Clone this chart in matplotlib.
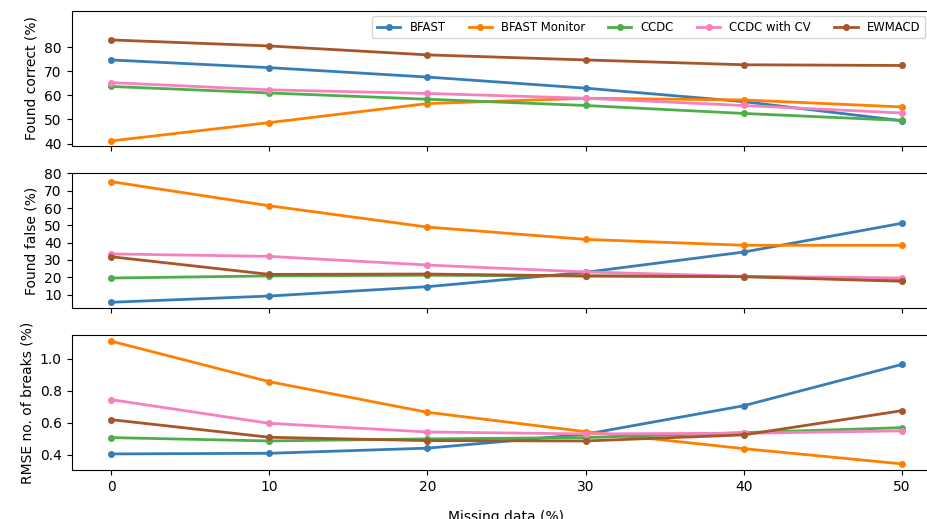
import numpy as np
import matplotlib
matplotlib.use('Agg')
import matplotlib.pyplot as plt

missing = [0, 10, 20, 30, 40, 50]
methods = ['BFAST', 'BFAST Monitor', 'CCDC', 'CCDC with CV', 'EWMACD']
colors = ['#377eb8', '#ff7f00', '#4daf4a', '#f781bf', '#a65628']

found_correct = {
    'BFAST': [74.7, 71.5, 67.6, 63.0, 57.4, 49.5],
    'BFAST Monitor': [41.1, 48.7, 56.6, 58.8, 58.1, 55.2],
    'CCDC': [63.7, 61.0, 58.4, 55.8, 52.5, 49.6],
    'CCDC with CV': [65.3, 62.3, 60.8, 58.8, 55.8, 52.7],
    'EWMACD': [83.0, 80.5, 76.8, 74.7, 72.7, 72.4],
}
found_false = {
    'BFAST': [5.6, 9.2, 14.6, 22.9, 34.6, 51.2],
    'BFAST Monitor': [75.2, 61.3, 49.0, 41.9, 38.5, 38.5],
    'CCDC': [19.6, 20.8, 21.2, 20.8, 20.4, 18.7],
    'CCDC with CV': [33.5, 32.1, 27.1, 23.1, 20.6, 19.6],
    'EWMACD': [31.9, 21.7, 21.9, 20.8, 20.4, 17.7],
}
rmse_breaks = {
    'BFAST': [0.406, 0.410, 0.442, 0.529, 0.707, 0.965],
    'BFAST Monitor': [1.110, 0.857, 0.666, 0.545, 0.439, 0.344],
    'CCDC': [0.508, 0.487, 0.500, 0.508, 0.539, 0.570],
    'CCDC with CV': [0.745, 0.597, 0.543, 0.531, 0.535, 0.550],
    'EWMACD': [0.620, 0.510, 0.489, 0.487, 0.525, 0.676],
}

fig = plt.figure(figsize=(9.28, 5.19), dpi=100)
left, width = 71.5 / 928, 870 / 928
ax1 = fig.add_axes([left, 1 - 146 / 519, width, 135 / 519])
ax2 = fig.add_axes([left, 1 - 308 / 519, width, 135 / 519], sharex=ax1)
ax3 = fig.add_axes([left, 1 - 470 / 519, width, 135 / 519], sharex=ax1)

for ax, data in [(ax1, found_correct), (ax2, found_false), (ax3, rmse_breaks)]:
    for m, c in zip(methods, colors):
        ax.plot(missing, data[m], '-o', color=c, lw=2, ms=4, label=m)
    ax.spines['right'].set_visible(False)

ax1.set_ylim(39, 95)
ax1.set_yticks([40, 50, 60, 70, 80])
ax1.set_ylabel('Found correct (%)')
ax1.legend(loc='upper left', bbox_to_anchor=(301 / 870, 1 - 5 / 135),
           borderaxespad=0, ncol=5, fontsize='small')
plt.setp(ax1.get_xticklabels(), visible=False)

ax2.set_ylim(2.3, 80.2)
ax2.set_yticks(np.arange(10, 81, 10))
ax2.set_ylabel('Found false (%)')
plt.setp(ax2.get_xticklabels(), visible=False)

ax3.set_yticks([0.4, 0.6, 0.8, 1.0])
ax3.set_yticklabels(['0.4', '0.6', '0.8', '1.0'])
ax3.set_ylabel('RMSE no. of breaks (%)')
ax3.set_xticks(missing)
ax3.set_xlabel('Missing data (%)', labelpad=12)

fig.savefig('out.png', dpi=100)
